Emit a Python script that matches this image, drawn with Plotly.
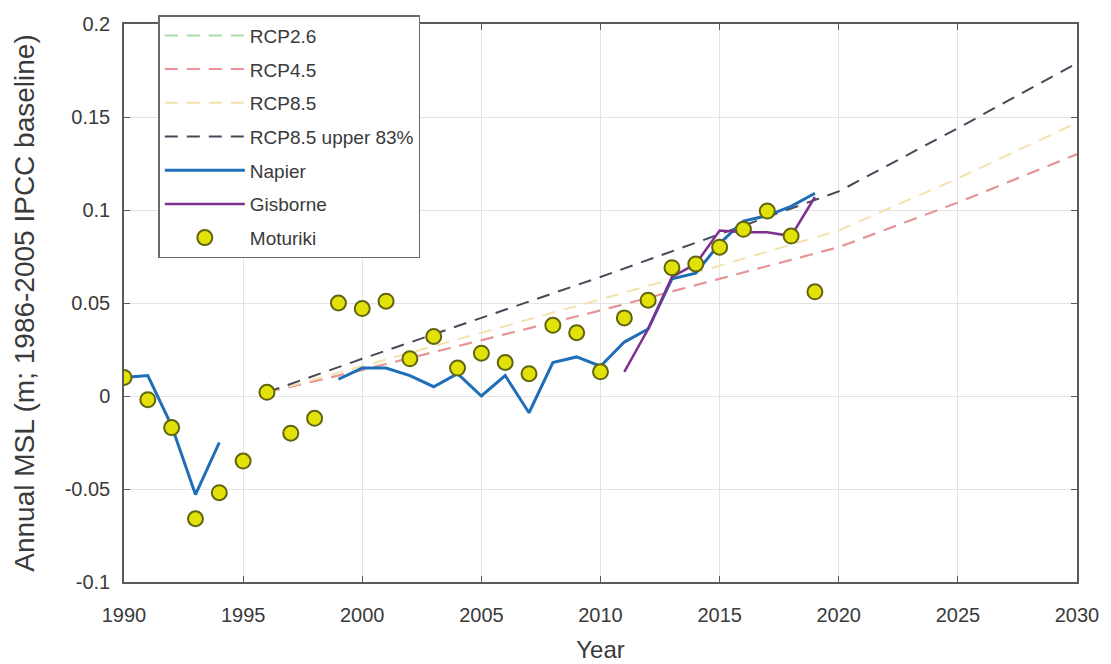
import plotly.graph_objects as go

# ---------------- data ----------------
proj_years = [1996, 2000, 2005, 2010, 2015, 2020, 2025, 2030]
rcp26 = [0.002, 0.014, 0.030, 0.046, 0.063, 0.080, 0.104, 0.130]
rcp45 = [0.002, 0.014, 0.030, 0.046, 0.063, 0.080, 0.104, 0.130]
rcp85 = [0.002, 0.016, 0.034, 0.052, 0.070, 0.089, 0.117, 0.147]
rcp85_upper = [0.002, 0.020, 0.042, 0.064, 0.087, 0.110, 0.144, 0.179]

napier_years = list(range(1990, 2020))
napier = [0.010, 0.011, -0.016, -0.053, -0.025, None, None, None, None,
          0.009, 0.015, 0.015, 0.011, 0.005, 0.012, 0.000, 0.011, -0.009,
          0.018, 0.021, 0.016, 0.029, 0.036, 0.063, 0.066, 0.082, 0.094,
          0.097, 0.102, 0.109]

gisborne_years = list(range(2011, 2020))
gisborne = [0.013, 0.036, 0.064, 0.071, 0.089, 0.088, 0.088, 0.086, 0.107]

moturiki_years = list(range(1990, 2020))
moturiki = [0.010, -0.002, -0.017, -0.066, -0.052, -0.035, 0.002, -0.020,
            -0.012, 0.050, 0.047, 0.051, 0.020, 0.032, 0.015, 0.023, 0.018,
            0.012, 0.038, 0.034, 0.013, 0.042, 0.0515, 0.069, 0.071, 0.080,
            0.0896, 0.0994, 0.086, 0.056]

x_ticks = [1990, 1995, 2000, 2005, 2010, 2015, 2020, 2025, 2030]
y_ticks = [-0.1, -0.05, 0, 0.05, 0.1, 0.15, 0.2]
y_tick_text = ["-0.1", "-0.05", "0", "0.05", "0.1", "0.15", "0.2"]

# ---------------- figure ----------------
FONT = "Liberation Sans, Arial, sans-serif"
fig = go.Figure()

def dashed(name, x, y, color, width=2):
    fig.add_trace(go.Scatter(x=x, y=y, name=name, mode="lines", legendgroup=name,
                             line=dict(color=color, width=width, dash="13px,9px")))

dashed("RCP2.6", proj_years, rcp26, "#a8dca8")
dashed("RCP4.5", proj_years, rcp45, "#f0909a")
dashed("RCP8.5", proj_years, rcp85, "#f2e2ad")
dashed("RCP8.5 upper 83%", proj_years, rcp85_upper, "#454a58")

fig.add_trace(go.Scatter(x=napier_years, y=napier, name="Napier", mode="lines",
                         legendgroup="Napier", connectgaps=False,
                         line=dict(color="#1f6fb8", width=3)))
fig.add_trace(go.Scatter(x=gisborne_years, y=gisborne, name="Gisborne", mode="lines",
                         legendgroup="Gisborne",
                         line=dict(color="#7e2f8e", width=2.5)))
fig.add_trace(go.Scatter(x=moturiki_years, y=moturiki, name="Moturiki", mode="markers",
                         legendgroup="Moturiki",
                         marker=dict(symbol="circle", size=15, color="#e2e20a",
                                     line=dict(color="#5f6410", width=2))))

axis_common = dict(
    showline=True, linecolor="#5a5a5a", linewidth=1.5, mirror="ticks",
    ticks="inside", ticklen=6, tickcolor="#5a5a5a",
    showgrid=True, gridcolor="#e3e3e3", gridwidth=1, zeroline=False,
    tickfont=dict(family=FONT, size=20, color="#3a3a3a"),
)

fig.update_xaxes(range=[1990, 2030], tickvals=x_ticks,
                 title=dict(text="Year", font=dict(family=FONT, size=24, color="#3a3a3a"),
                            standoff=16),
                 ticklabelstandoff=14, **axis_common)
fig.update_yaxes(range=[-0.1, 0.2], tickvals=y_ticks, ticktext=y_tick_text,
                 title=dict(text="Annual MSL (m; 1986-2005 IPCC baseline)",
                            font=dict(family=FONT, size=28, color="#3a3a3a"),
                            standoff=22),
                 ticklabelstandoff=8, **axis_common)

fig.update_layout(
    width=1111, height=664,
    margin=dict(l=124, r=34, t=24, b=82, autoexpand=False),
    plot_bgcolor="white", paper_bgcolor="white",
    font=dict(family=FONT, color="#3a3a3a"),
    legend=dict(x=0.036, y=1.016, xanchor="left", yanchor="top",
                bgcolor="white", bordercolor="#6a6a6a", borderwidth=1.5,
                font=dict(family=FONT, size=19, color="#3a3a3a"),
                itemwidth=80, tracegroupgap=6, traceorder="grouped"),
    showlegend=True,
)

fig.write_html("out.html", config={"displayModeBar": False},
               post_script="document.body.style.margin='0';document.body.style.overflow='hidden';")
